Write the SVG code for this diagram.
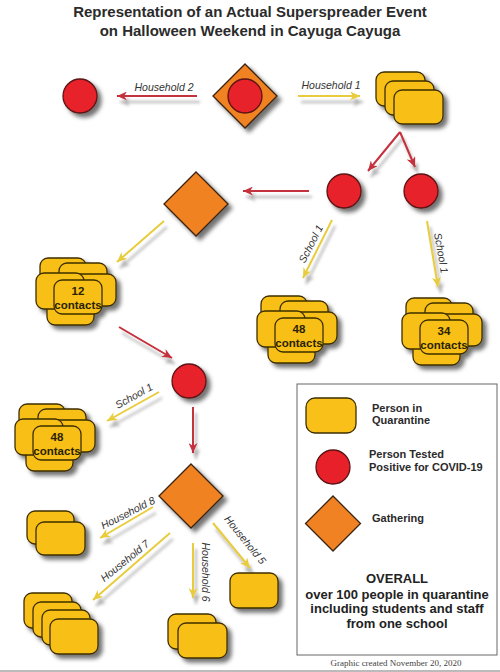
<svg xmlns="http://www.w3.org/2000/svg" xmlns:xlink="http://www.w3.org/1999/xlink" width="500" height="672" viewBox="0 0 500 672">
<style>
.title{font-family:"Liberation Sans",Arial,sans-serif;font-weight:bold;font-size:15px;fill:#2b2b2b;text-anchor:middle}
.lbl{font-family:"Liberation Sans",Arial,sans-serif;font-style:italic;font-size:10.5px;fill:#333;text-anchor:middle}
.cnt{font-family:"Liberation Sans",Arial,sans-serif;font-weight:bold;font-size:11.5px;fill:#2a2200;text-anchor:middle}
.leg{font-family:"Liberation Sans",Arial,sans-serif;font-weight:bold;font-size:11px;fill:#2a2a2a}
.ov{font-family:"Liberation Sans",Arial,sans-serif;font-weight:bold;font-size:13px;fill:#222;text-anchor:middle}
.foot{font-family:"Liberation Serif","Times New Roman",serif;font-size:9px;fill:#444;text-anchor:middle}
.q{fill:#f8c018;stroke:#3d2e00;stroke-width:1.3}
.p{fill:#e8202a;stroke:#5a1414;stroke-width:1.3}
.g{fill:#f08224;stroke:#3a2410;stroke-width:1.3}
.ar{stroke:#c4303c;stroke-width:2;fill:none;marker-end:url(#mr)}
.ay{stroke:#e8cc3c;stroke-width:2;fill:none;marker-end:url(#my)}
</style>
<defs>
<filter id="sh" x="-30%" y="-30%" width="180%" height="180%">
<feDropShadow dx="4" dy="4" stdDeviation="2" flood-color="#000" flood-opacity="0.55"/>
</filter>
<filter id="ash" x="-30%" y="-60%" width="160%" height="260%">
<feDropShadow dx="3" dy="6" stdDeviation="1.8" flood-color="#555" flood-opacity="0.45"/>
</filter>
<marker id="mr" markerUnits="userSpaceOnUse" markerWidth="11" markerHeight="9" refX="10" refY="4.5" orient="auto">
<path d="M0,0 L10,4.5 L0,9 L3,4.5 z" fill="#c4303c"/>
</marker>
<marker id="my" markerUnits="userSpaceOnUse" markerWidth="11" markerHeight="9" refX="10" refY="4.5" orient="auto">
<path d="M0,0 L10,4.5 L0,9 L3,4.5 z" fill="#e8cc3c"/>
</marker>
<g id="cl">
<rect class="q" x="0" y="0" width="46" height="34" rx="8"/>
<rect class="q" x="19" y="5" width="48" height="34" rx="8"/>
<rect class="q" x="28" y="16" width="48" height="32" rx="8"/>
<rect class="q" x="7" y="30" width="47" height="37" rx="8"/>
<rect class="q" x="-4" y="15" width="48" height="36" rx="8"/>
<rect class="q" x="14" y="22" width="48" height="34" rx="8"/>
</g>
</defs>
<rect width="500" height="672" fill="#fff"/>
<text class="title" x="250" y="17">Representation of an Actual Superspreader Event</text>
<text class="title" x="250" y="36">on Halloween Weekend in Cayuga Cayuga</text>

<g id="connectors">
<g filter="url(#ash)">
<line class="ar" x1="197" y1="96" x2="117" y2="96"/>
<line class="ay" x1="298" y1="96" x2="360" y2="96"/>
<line class="ar" x1="400" y1="132" x2="368" y2="171"/>
<line class="ar" x1="400" y1="132" x2="415" y2="167"/>
<line class="ar" x1="309" y1="191" x2="243" y2="191"/>
<line class="ay" x1="164" y1="221" x2="117" y2="262"/>
<line class="ay" x1="332" y1="220" x2="303" y2="278"/>
<line class="ay" x1="427" y1="221" x2="438" y2="287"/>
<line class="ar" x1="119" y1="327" x2="172" y2="358"/>
<line class="ay" x1="159" y1="392" x2="107" y2="421"/>
<line class="ar" x1="193" y1="407" x2="193" y2="453"/>
<line class="ay" x1="153" y1="507" x2="100" y2="538"/>
<line class="ay" x1="170" y1="533" x2="93" y2="600"/>
<line class="ay" x1="193" y1="543" x2="193" y2="598"/>
<line class="ay" x1="213" y1="523" x2="250" y2="568"/>
</g>
<text class="lbl" x="164" y="91">Household 2</text>
<text class="lbl" x="331" y="89">Household 1</text>
<text class="lbl" transform="translate(311,244) rotate(-63)" y="3.5">School 1</text>
<text class="lbl" transform="translate(441,253) rotate(80)" y="3.5">School 1</text>
<text class="lbl" transform="translate(134,396) rotate(-29)" y="3.5">School 1</text>
<text class="lbl" transform="translate(128,513) rotate(-27)" y="3.5">Household 8</text>
<text class="lbl" transform="translate(125,561) rotate(-39)" y="3.5">Household 7</text>
<text class="lbl" transform="translate(205,572) rotate(90)" y="3.5">Household 6</text>
<text class="lbl" transform="translate(245,540) rotate(51)" y="3.5">Household 5</text>
</g>

<g id="n-pos-h2" filter="url(#sh)"><circle class="p" cx="80" cy="96" r="17"/></g>
<g id="n-gather1" filter="url(#sh)">
<polygon class="g" points="245,64 277,96 245,128 213,96"/>
<circle class="p" cx="245" cy="96" r="17"/>
</g>
<g id="n-h1" filter="url(#sh)">
<rect class="q" x="376" y="72" width="49" height="34" rx="8"/>
<rect class="q" x="385" y="81" width="49" height="34" rx="8"/>
<rect class="q" x="394" y="90" width="49" height="34" rx="8"/>
</g>
<g id="n-pos-a" filter="url(#sh)"><circle class="p" cx="344" cy="191" r="17"/></g>
<g id="n-pos-b" filter="url(#sh)"><circle class="p" cx="421" cy="191" r="17"/></g>
<g id="n-gather2" filter="url(#sh)"><polygon class="g" points="196,172 228,204 196,236 164,204"/></g>
<g id="n-12">
<use xlink:href="#cl" href="#cl" x="40" y="258" filter="url(#sh)"/>
<text class="cnt" x="78" y="295">12</text>
<text class="cnt" x="78" y="309">contacts</text>
</g>
<g id="n-48a">
<use xlink:href="#cl" href="#cl" x="261" y="296" filter="url(#sh)"/>
<text class="cnt" x="299" y="333">48</text>
<text class="cnt" x="299" y="347">contacts</text>
</g>
<g id="n-34">
<use xlink:href="#cl" href="#cl" x="406" y="298" filter="url(#sh)"/>
<text class="cnt" x="444" y="335">34</text>
<text class="cnt" x="444" y="349">contacts</text>
</g>
<g id="n-pos-c" filter="url(#sh)"><circle class="p" cx="189" cy="381" r="17"/></g>
<g id="n-48b">
<use xlink:href="#cl" href="#cl" x="19" y="404" filter="url(#sh)"/>
<text class="cnt" x="57" y="441">48</text>
<text class="cnt" x="57" y="455">contacts</text>
</g>
<g id="n-gather3" filter="url(#sh)"><polygon class="g" points="191,464 223,496 191,528 159,496"/></g>
<g id="n-h8" filter="url(#sh)">
<rect class="q" x="27" y="511" width="47" height="33" rx="8"/>
<rect class="q" x="36" y="522" width="49" height="33" rx="8"/>
</g>
<g id="n-h7" filter="url(#sh)">
<rect class="q" x="24" y="593" width="48" height="35" rx="8"/>
<rect class="q" x="33" y="602" width="48" height="35" rx="8"/>
<rect class="q" x="42" y="610" width="48" height="35" rx="8"/>
<rect class="q" x="50" y="619" width="48" height="35" rx="8"/>
</g>
<g id="n-h6" filter="url(#sh)">
<rect class="q" x="168" y="614" width="48" height="35" rx="8"/>
<rect class="q" x="178" y="623" width="49" height="35" rx="8"/>
</g>
<g id="n-h5" filter="url(#sh)">
<rect class="q" x="230" y="573" width="48" height="35" rx="8"/>
</g>

<g id="legend">
<rect x="297" y="384" width="200" height="271" fill="#fff" stroke="#666" stroke-width="1"/>
<rect class="q" x="306" y="398" width="50" height="35" rx="9"/>
<text class="leg" x="372" y="412">Person in</text>
<text class="leg" x="372" y="424">Quarantine</text>
<circle class="p" cx="333" cy="467" r="17"/>
<text class="leg" x="369" y="458">Person Tested</text>
<text class="leg" x="369" y="471">Positive for COVID-19</text>
<polygon class="g" points="333,496 360.5,523.5 333,551 305.5,523.5"/>
<text class="leg" x="372" y="522">Gathering</text>
<text class="ov" x="397" y="583">OVERALL</text>
<text class="ov" x="397" y="599">over 100 people in quarantine</text>
<text class="ov" x="397" y="613">including students and staff</text>
<text class="ov" x="397" y="628">from one school</text>
</g>
<text class="foot" x="396" y="666">Graphic created November 20, 2020</text>
<rect x="0" y="670" width="500" height="2" fill="#bbb"/>
</svg>
